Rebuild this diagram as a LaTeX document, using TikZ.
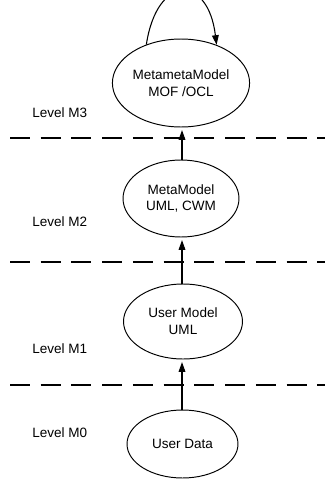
\documentclass[tikz,border=0pt]{standalone}
\usepackage{fontspec}
\setmainfont{Liberation Sans}
\usetikzlibrary{shapes.geometric}
\usetikzlibrary{arrows.meta}

\tikzset{
  model/.style={draw, ellipse, line width=0.55pt, inner sep=0pt, align=center,
                font=\fontsize{7.7}{9.6}\selectfont},
  levellabel/.style={anchor=west, inner sep=0pt, font=\fontsize{7.7}{9.6}\selectfont},
  boundary/.style={line width=0.8pt, dash pattern=on 11.3pt off 6.2pt},
  lift/.style={line width=0.6pt, -{Triangle[length=5.5pt,width=3.8pt]}, shorten >=1.5pt}
}

\begin{document}
\begin{tikzpicture}[x=0.02cm, y=-0.02cm]

\useasboundingbox (0,0) rectangle (325,480);

\foreach \y in {138,262,385}
   \draw[boundary] (10,\y) -- (325,\y);

\node[model, minimum width=2.58cm, minimum height=1.76cm] (m3) at (181,83)
   {MetametaModel\\MOF /OCL};
\node[model, minimum width=2.32cm, minimum height=1.54cm] (m2) at (181,198.5)
   {MetaModel\\UML, CWM};
\node[model, minimum width=2.38cm, minimum height=1.5cm] (m1) at (183,321.5)
   {User Model\\UML};
\node[model, minimum width=2.22cm, minimum height=1.36cm] (m0) at (182.5,444)
   {User Data};

\path
(32,113) node[levellabel] (l3) {Level M3}
(32,222) node[levellabel] (l2) {Level M2}
(32,349) node[levellabel] (l1) {Level M1}
(32,433) node[levellabel] (l0) {Level M0};

\draw[lift] (m2.north -| 182,0) -- (m3.south -| 182,0);
\draw[lift] (m1.north -| 182,0) -- (m2.south -| 182,0);
\draw[lift] (m0.north -| 182,0) -- (m1.south -| 182,0);

% self reference of the top level
\draw[lift, shorten >=0pt] (m3.132) .. controls (157,-26) and (208,-26) .. (m3.47);

\end{tikzpicture}
\end{document}
